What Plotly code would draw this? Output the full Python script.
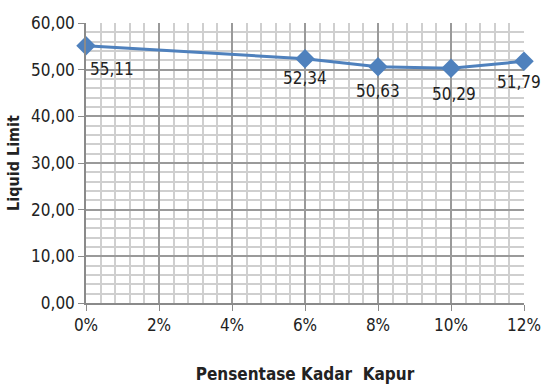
import plotly.graph_objects as go

# Liquid limit vs. lime content
kadar_kapur = [0.00, 0.06, 0.08, 0.10, 0.12]
liquid_limit = [55.11, 52.34, 50.63, 50.29, 51.79]

# horizontal nudge of each value label (px) so edge labels stay readable
label_dx = [26, 0, 0, 3, -5]
label_dy = [-23, -19, -24, -26, -21]

FONT = "DejaVu Sans Condensed, sans-serif"

fig = go.Figure(
    go.Scatter(
        x=kadar_kapur,
        y=liquid_limit,
        mode="lines+markers",
        line=dict(color="#4F81BD", width=3),
        marker=dict(symbol="diamond", size=15, color="#4F81BD"),
        cliponaxis=False,
        showlegend=False,
    )
)

for xv, yv, dx, dy in zip(kadar_kapur, liquid_limit, label_dx, label_dy):
    fig.add_annotation(
        x=xv,
        y=yv,
        text=f"{yv:.2f}".replace(".", ","),
        showarrow=False,
        xshift=dx,
        yshift=dy,
        font=dict(family=FONT, size=17, color="#222222"),
    )

fig.update_layout(
    width=542,
    height=385,
    margin=dict(l=86, r=18, t=23, b=82, autoexpand=False),
    paper_bgcolor="white",
    plot_bgcolor="white",
    separators=",.",
    font=dict(family=FONT, size=17, color="#222222"),
)

fig.update_xaxes(
    range=[0, 0.12],
    dtick=0.02,
    tickformat=".0%",
    automargin=False,
    showgrid=True,
    gridcolor="#9a9a9a",
    gridwidth=1.5,
    minor=dict(dtick=0.004, showgrid=True, gridcolor="#cfcfcf", gridwidth=1.5),
    showline=True,
    linecolor="#8a8a8a",
    linewidth=1.5,
    ticks="outside",
    ticklen=6,
    tickcolor="#8a8a8a",
    zeroline=False,
    title=dict(text="<b>Pensentase Kadar  Kapur</b>", font=dict(family=FONT, size=17), standoff=34),
)

fig.update_yaxes(
    range=[0, 60],
    dtick=10,
    tickformat=".2f",
    automargin=False,
    showgrid=True,
    gridcolor="#9a9a9a",
    gridwidth=1.5,
    minor=dict(dtick=2, showgrid=True, gridcolor="#cfcfcf", gridwidth=1.5),
    showline=True,
    linecolor="#8a8a8a",
    linewidth=1.5,
    ticks="outside",
    ticklen=6,
    tickcolor="#8a8a8a",
    zeroline=False,
    title=dict(text="<b>Liquid Limit</b>", font=dict(family=FONT, size=16), standoff=7),
)

fig.write_html("out.html")
